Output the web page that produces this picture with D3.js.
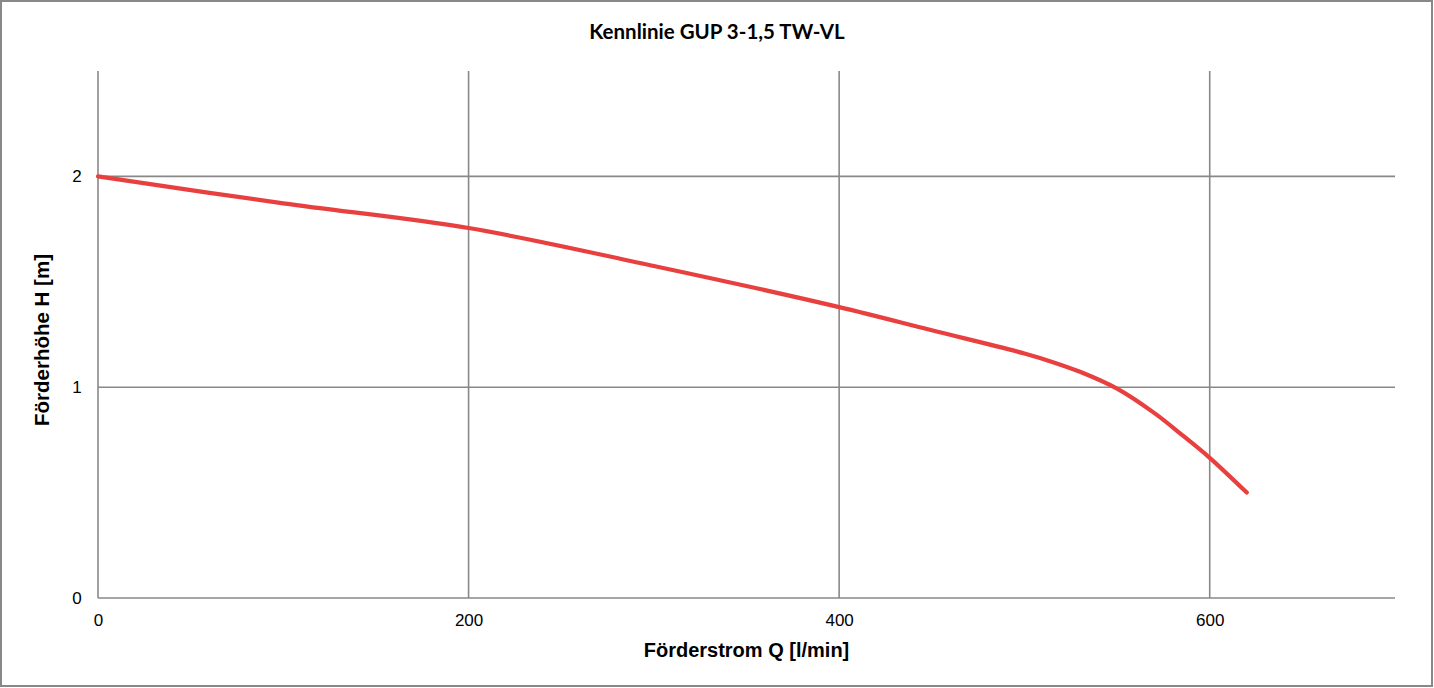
<!DOCTYPE html>
<html>
<head>
<meta charset="utf-8">
<script src="https://cdn.jsdelivr.net/npm/d3@7"></script>
<style>
  body { margin: 0; background: #fff; }
  .tick text { font-family: "Liberation Sans", Arial, sans-serif; font-size: 17px; fill: #000; }
</style>
</head>
<body>
<div id="chart"></div>
<script>
// Kennlinie GUP 3-1,5 TW-VL
var title = "Kennlinie GUP 3-1,5 TW-VL";
var xLabel = "Förderstrom Q [l/min]";
var yLabel = "Förderhöhe H [m]";

// values
var flow = [0, 100, 200, 300, 400, 450, 500, 515, 530, 550, 570, 585, 600, 620];
var head = [2.0, 1.872, 1.755, 1.575, 1.38, 1.27, 1.16, 1.12, 1.073, 0.993, 0.878, 0.774, 0.665, 0.50];

var xTicks = [0, 200, 400, 600];
var yTicks = [0, 1, 2];

var width = 1434;
var height = 688;
var margin = {top: 71, right: 39, bottom: 90, left: 98};

var svg = d3.select("#chart").append("svg")
  .attr("width", width)
  .attr("height", height);

// outer frame
svg.append("rect")
  .attr("x", 1)
  .attr("y", 1)
  .attr("width", width - 3)
  .attr("height", height - 3)
  .attr("fill", "#fff")
  .attr("stroke", "#888")
  .attr("stroke-width", 2);

var xScale = d3.scaleLinear()
  .domain([0, 700])
  .range([margin.left, width - margin.right]);

var yScale = d3.scaleLinear()
  .domain([0, 2.5])
  .range([height - margin.bottom, margin.top]);

/* grid lines */
var grid = svg.append("g").attr("stroke", "#888").attr("stroke-width", 1.6);

grid.selectAll(".vline")
  .data(xTicks).enter()
  .append("line")
  .attr("class", "vline")
  .attr("x1", d => xScale(d))
  .attr("x2", d => xScale(d))
  .attr("y1", yScale(2.5))
  .attr("y2", yScale(0));

grid.selectAll(".hline")
  .data(yTicks).enter()
  .append("line")
  .attr("class", "hline")
  .attr("x1", xScale(0))
  .attr("x2", xScale(700))
  .attr("y1", d => yScale(d))
  .attr("y2", d => yScale(d));

/* axes (labels only) */
var xAxis = d3.axisBottom(xScale).tickValues(xTicks).tickSize(0).tickPadding(16);
var yAxis = d3.axisLeft(yScale).tickValues(yTicks).tickFormat(d3.format("d")).tickSize(0).tickPadding(16);

svg.append("g")
  .attr("class", "x axis")
  .attr("transform", `translate(0, ${yScale(0)})`)
  .call(xAxis)
  .call(g => g.select(".domain").remove());

svg.append("g")
  .attr("class", "y axis")
  .attr("transform", `translate(${xScale(0)}, 0)`)
  .call(yAxis)
  .call(g => g.select(".domain").remove())
  .selectAll("text")
  .attr("text-anchor", "middle")
  .attr("x", -21);

/* curve */
var points = flow.map((q, i) => ({q: q, h: head[i]}));

var line = d3.line()
  .x(d => xScale(d.q))
  .y(d => yScale(d.h))
  .curve(d3.curveCatmullRom.alpha(0.5));

svg.append("path")
  .datum(points)
  .attr("d", line)
  .attr("fill", "none")
  .attr("stroke", "#e8403f")
  .attr("stroke-width", 4.2)
  .attr("stroke-linecap", "round")
  .attr("stroke-linejoin", "round");

/* titles */
svg.append("text")
  .attr("x", 717)
  .attr("y", 39)
  .attr("text-anchor", "middle")
  .style("font-family", "Lato, 'Open Sans', sans-serif")
  .style("font-weight", "bold")
  .style("font-size", "20.5px")
  .text(title);

svg.append("text")
  .attr("x", (xScale(0) + xScale(700)) / 2)
  .attr("y", 657)
  .attr("text-anchor", "middle")
  .style("font-family", "'Liberation Sans', Arial, sans-serif")
  .style("font-weight", "bold")
  .style("font-size", "20px")
  .text(xLabel);

svg.append("text")
  .attr("transform", "translate(49, 340) rotate(-90)")
  .attr("text-anchor", "middle")
  .style("font-family", "'Liberation Sans', Arial, sans-serif")
  .style("font-weight", "bold")
  .style("font-size", "20.5px")
  .text(yLabel);
</script>
</body>
</html>
